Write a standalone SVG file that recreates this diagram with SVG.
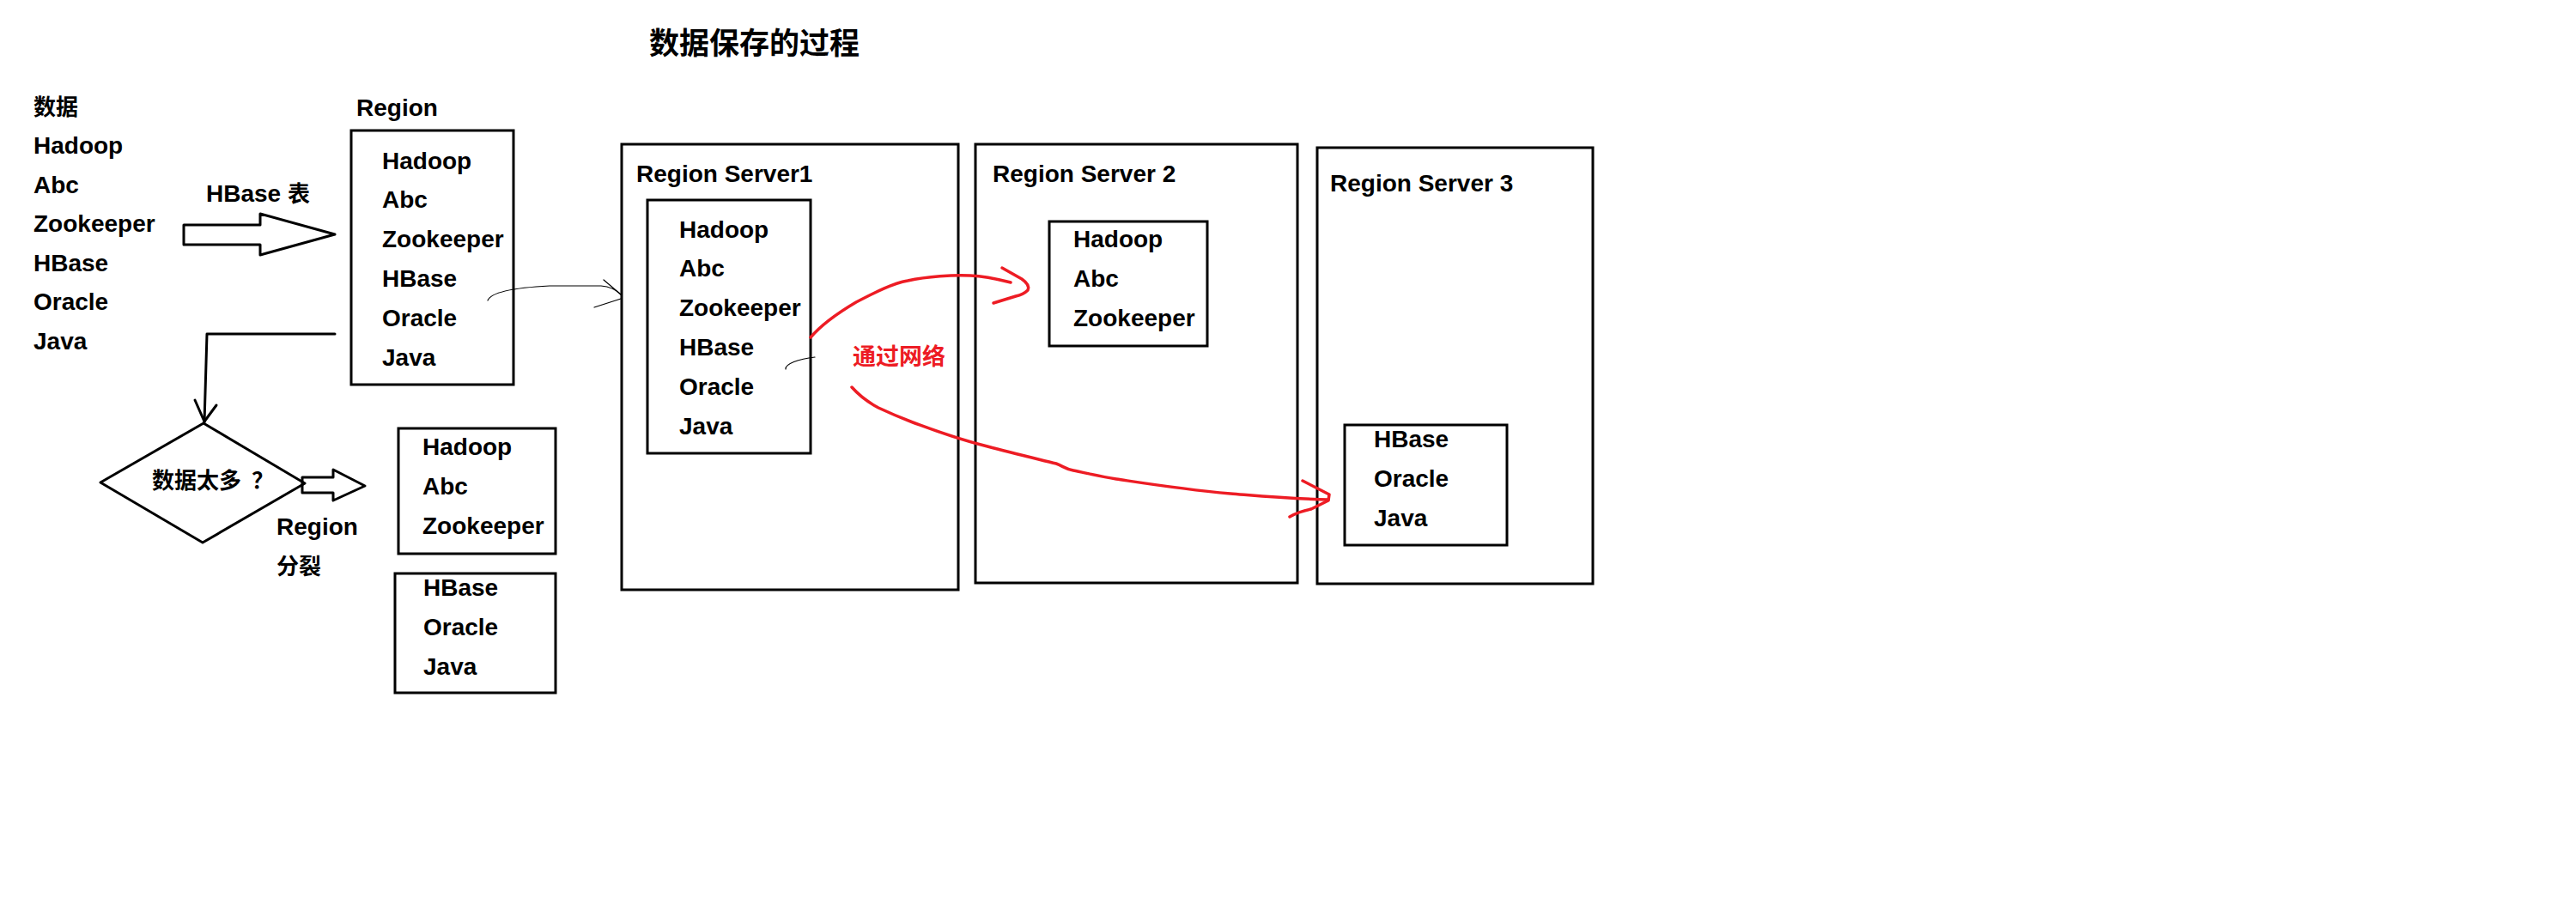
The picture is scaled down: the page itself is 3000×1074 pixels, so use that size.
<svg xmlns="http://www.w3.org/2000/svg" width="3000" height="1074" viewBox="0 0 3000 1074">
<style>
.t{font-family:"Liberation Sans","Noto Sans CJK SC",sans-serif;font-weight:bold;font-size:28px;fill:#000}
.c{font-family:"Noto Sans CJK SC","Liberation Sans",sans-serif;font-weight:bold;font-size:26px;fill:#000}
.title{font-family:"Noto Sans CJK SC",sans-serif;font-weight:bold;font-size:35px;fill:#000}
.red{font-family:"Noto Sans CJK SC",sans-serif;font-weight:bold;font-size:27px;fill:#ED1C24}
.box{fill:none;stroke:#000;stroke-width:3}
.ln{fill:none;stroke:#000;stroke-width:3;stroke-linecap:round;stroke-linejoin:round}
.thin{fill:none;stroke:#000;stroke-width:1.2;stroke-linecap:round}
.rl{fill:none;stroke:#ED1C24;stroke-width:3.5;stroke-linecap:round;stroke-linejoin:round}
</style>
<rect width="3000" height="1074" fill="#fff"/>
<text class="title" x="756" y="63">数据保存的过程</text>

<g id="data-list">
<text class="c" x="39" y="134">数据</text>
<text class="t" x="39" y="179">Hadoop</text>
<text class="t" x="39" y="225">Abc</text>
<text class="t" x="39" y="270">Zookeeper</text>
<text class="t" x="39" y="316">HBase</text>
<text class="t" x="39" y="361">Oracle</text>
<text class="t" x="39" y="407">Java</text>
</g>

<g id="region">
<text class="t" x="415" y="135">Region</text>
<rect class="box" x="409" y="152" width="189" height="296"/>
<text class="t" x="445" y="197">Hadoop</text>
<text class="t" x="445" y="242">Abc</text>
<text class="t" x="445" y="288">Zookeeper</text>
<text class="t" x="445" y="334">HBase</text>
<text class="t" x="445" y="380">Oracle</text>
<text class="t" x="445" y="426">Java</text>
</g>

<g id="decision">
<polygon class="ln" points="237,493 355,563 236,632 117,562"/>
<text class="c" x="177" y="569">数据太多<tspan dx="12">？</tspan></text>
</g>

<g id="split-a">
<rect class="box" x="464" y="499" width="183" height="146"/>
<text class="t" x="492" y="530">Hadoop</text>
<text class="t" x="492" y="576">Abc</text>
<text class="t" x="492" y="622">Zookeeper</text>
</g>

<g id="split-b">
<rect class="box" x="460" y="668" width="187" height="139"/>
<text class="t" x="493" y="694">HBase</text>
<text class="t" x="493" y="740">Oracle</text>
<text class="t" x="493" y="786">Java</text>
</g>

<g id="rs1">
<rect class="box" x="724" y="168" width="392" height="519"/>
<text class="t" x="741" y="212">Region Server1</text>
<rect class="box" x="754" y="233" width="190" height="295"/>
<text class="t" x="791" y="277">Hadoop</text>
<text class="t" x="791" y="322">Abc</text>
<text class="t" x="791" y="368">Zookeeper</text>
<text class="t" x="791" y="414">HBase</text>
<text class="t" x="791" y="460">Oracle</text>
<text class="t" x="791" y="506">Java</text>
</g>

<g id="rs2">
<rect class="box" x="1136" y="168" width="375" height="511"/>
<text class="t" x="1156" y="212">Region Server 2</text>
<rect class="box" x="1222" y="258" width="184" height="145"/>
<text class="t" x="1250" y="288">Hadoop</text>
<text class="t" x="1250" y="334">Abc</text>
<text class="t" x="1250" y="380">Zookeeper</text>
</g>

<g id="rs3">
<rect class="box" x="1534" y="172" width="321" height="508"/>
<text class="t" x="1549" y="223">Region Server 3</text>
<rect class="box" x="1566" y="495" width="189" height="140"/>
<text class="t" x="1600" y="521">HBase</text>
<text class="t" x="1600" y="567">Oracle</text>
<text class="t" x="1600" y="613">Java</text>
</g>

<g id="connectors">
<polygon class="ln" points="214,262 303,262 303,249 390,273 303,297 303,285 214,285"/>
<text class="t" x="240" y="235">HBase <tspan class="c">表</tspan></text>
<path class="ln" d="M390,389 L241,389 L238,492"/>
<path class="ln" d="M227,466 L238,491 L252,472"/>
<polygon class="ln" points="352,556 388,556 388,547 425,566 388,583 388,574 352,574"/>
<text class="t" x="322" y="623">Region</text>
<text class="c" x="322" y="669">分裂</text>
<path class="thin" d="M568,350 C572,340 600,335 640,333 L700,333 C712,334 718,338 723,343"/>
<path class="thin" d="M703,326 L723,343 M692,358 L723,348"/>
<path class="thin" d="M915,430 C914,424 930,418 949,416"/>
<path class="rl" d="M944,393 C955,380 970,368 997,352 C1020,340 1040,330 1057,327 C1080,322 1110,320 1130,321 C1150,322 1165,326 1177,329"/>
<path class="rl" d="M1167,312 L1190,325 Q1200,332 1197,338 Q1192,343 1183,345 L1157,353"/>
<path class="rl" d="M992,451 C1000,460 1010,468 1023,475 C1040,483 1050,487 1063,492 C1090,502 1110,510 1150,520 C1180,528 1210,535 1230,540 C1238,543 1240,546 1250,548 C1265,551 1280,555 1300,558 C1340,564 1377,570 1433,575 C1470,578 1500,581 1547,582"/>
<path class="rl" d="M1517,560 L1548,576 L1547,583 L1527,593 Q1512,596 1502,602"/>
<text class="red" x="993" y="425">通过网络</text>
</g>
</svg>
